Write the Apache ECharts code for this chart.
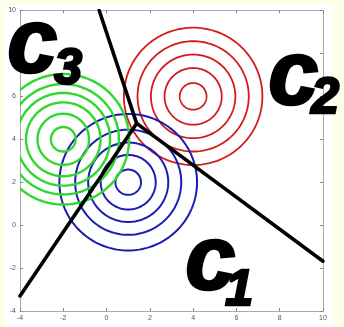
<!DOCTYPE html>
<html>
<head>
<meta charset="utf-8">
<script src="https://cdn.jsdelivr.net/npm/echarts@6/dist/echarts.min.js"></script>
<style>
  html, body { margin: 0; padding: 0; background: #ffffe8; }
  #chart { width: 344px; height: 327px; }
</style>
</head>
<body>
<div id="chart"></div>
<script>
// Axis ticks (both axes share the same range)
const xTicks = [-4, -2, 0, 2, 4, 6, 8, 10];
const yTicks = [-4, -2, 0, 2, 4, 6, 8, 10];

// Class centres [x, y] and the radii of their contour rings
const centerC1 = [1, 2];
const centerC2 = [4, 6];
const centerC3 = [-2, 4];
const radiiC1 = [0.59, 1.27, 1.85, 2.45, 3.18];
const radiiC2 = [0.62, 1.32, 1.95, 2.57, 3.2];
const radiiC3 = [0.57, 1.19, 1.72, 2.16, 2.57, 3.04];

// Decision boundaries: three rays meeting at one junction
const boundaryTop = [[-0.34, 10], [1.39, 4.74]];
const boundaryLeft = [[1.39, 4.74], [-4, -3.3]];
const boundaryRight = [[1.39, 4.74], [10, -1.68]];

const chart = echarts.init(document.getElementById('chart'), null, { renderer: 'canvas' });

function rings(center, radii, color, width) {
  return {
    type: 'custom',
    coordinateSystem: 'cartesian2d',
    silent: true,
    animation: false,
    data: radii.map(r => [center[0], center[1], r]),
    renderItem: function (params, api) {
      const cx = api.value(0), cy = api.value(1), r = api.value(2);
      const pts = [];
      const n = 160;
      for (let i = 0; i <= n; i++) {
        const t = (i / n) * Math.PI * 2;
        pts.push(api.coord([cx + r * Math.cos(t), cy + r * Math.sin(t)]));
      }
      const cs = params.coordSys;
      return {
        type: 'group',
        clipPath: { type: 'rect', shape: { x: cs.x, y: cs.y, width: cs.width, height: cs.height } },
        children: [{
          type: 'polyline',
          shape: { points: pts },
          style: { fill: null, stroke: color, lineWidth: width }
        }]
      };
    }
  };
}

function boundary(data) {
  return {
    type: 'line',
    data: data,
    showSymbol: false,
    symbol: 'none',
    silent: true,
    animation: false,
    lineStyle: { color: '#000', width: 3.6, cap: 'round' },
    z: 5
  };
}

const tickLabel = { fontSize: 7, color: '#555', fontFamily: 'Liberation Sans' };
const frameColor = '#aaaaaa';

function axisCommon(showLabels) {
  return {
    type: 'value',
    min: -4,
    max: 10,
    interval: 2,
    splitLine: { show: false },
    axisLine: { show: true, onZero: false, lineStyle: { color: frameColor, width: 1 } },
    axisTick: { show: true, inside: true, length: 3, lineStyle: { color: '#888' } },
    axisLabel: Object.assign({ show: showLabels, margin: 4 }, tickLabel)
  };
}

const bigFont = {
  fontFamily: 'Liberation Sans',
  fontStyle: 'italic',
  fontWeight: 'bold',
  fill: '#000',
  stroke: '#000',
  lineWidth: 2.5
};

function label(text, left, top, size) {
  return {
    type: 'text',
    left: left,
    top: top,
    z: 100,
    style: Object.assign({ text: text, fontSize: size }, bigFont)
  };
}

chart.setOption({
  backgroundColor: '#ffffe8',
  animation: false,
  graphic: [
    { type: 'rect', left: 5, top: 5, shape: { width: 328, height: 322 }, style: { fill: '#ffffff' }, z: -10 },
    label('c', 6, 1, 90),
    label('3', 53, 44, 50),
    label('c', 267, 33, 90),
    label('2', 310, 73, 50),
    label('c', 184, 218, 90),
    label('1', 224, 265, 50)
  ],
  grid: { left: 20, top: 10.5, right: 21, bottom: 16, show: false },
  xAxis: [
    Object.assign(axisCommon(true), { position: 'bottom' }),
    Object.assign(axisCommon(false), { position: 'top' })
  ],
  yAxis: [
    Object.assign(axisCommon(true), { position: 'left' }),
    Object.assign(axisCommon(false), { position: 'right' })
  ],
  series: [
    rings(centerC2, radiiC2, '#d01c1c', 1.8),
    rings(centerC1, radiiC1, '#1c1cb0', 2),
    rings(centerC3, radiiC3, '#2ed82e', 2.4),
    boundary(boundaryTop),
    boundary(boundaryLeft),
    boundary(boundaryRight)
  ]
});
</script>
</body>
</html>
